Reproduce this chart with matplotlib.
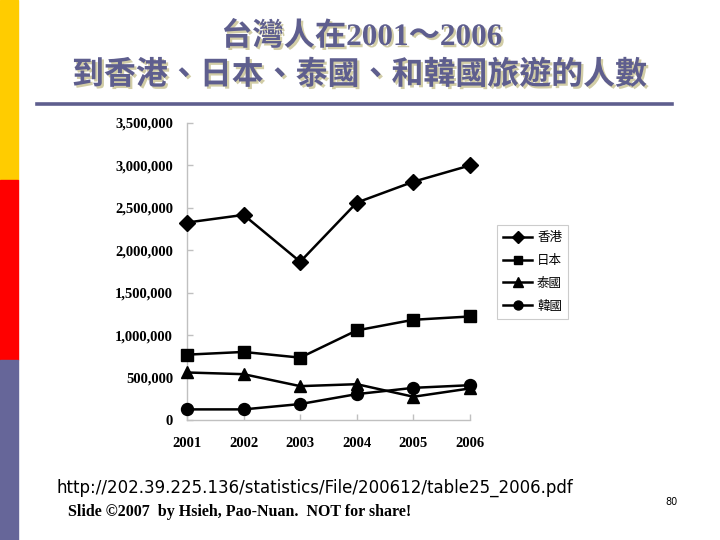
import matplotlib
matplotlib.use('Agg')
import matplotlib.pyplot as plt
import matplotlib.patheffects as pe
from matplotlib.patches import Rectangle
from matplotlib.lines import Line2D
from matplotlib.font_manager import FontProperties

# ---------------- data ----------------
years = [2001, 2002, 2003, 2004, 2005, 2006]
hong_kong = [2327000, 2417000, 1865000, 2562000, 2808000, 3000000]
japan = [770000, 802000, 735000, 1056000, 1181000, 1220000]
thailand = [560000, 540000, 399000, 422000, 274000, 372000]
korea = [125000, 125000, 188000, 305000, 379000, 410000]
series_names = ['香港', '日本', '泰國', '韓國']
y_ticks = [0, 500000, 1000000, 1500000, 2000000, 2500000, 3000000, 3500000]

title1 = '台灣人在2001～2006'
title2 = '到香港、日本、泰國、和韓國旅遊的人數'
source_url = 'http://202.39.225.136/statistics/File/200612/table25_2006.pdf'
credit = 'Slide ©2007  by Hsieh, Pao-Nuan.  NOT for share!'
page_no = '80'

W, H = 720, 540
fig = plt.figure(figsize=(7.2, 5.4), dpi=100)
fig.patch.set_facecolor('white')

# left decorative bars
for y0, y1, c in [(0, 180, '#FFCC00'), (180, 360, '#FF0000'), (360, 540, '#666699')]:
    fig.patches.append(Rectangle((0, 1 - y1 / H), 18 / W, (y1 - y0) / H,
                                 transform=fig.transFigure, color=c, zorder=0))

slate = '#5e5e8e'
shadow = [pe.withSimplePatchShadow(offset=(1.6, -1.6), shadow_rgbFace='#d2cda6', alpha=1.0)]

fig.text(362 / W, 1 - 37 / H, title1, ha='center', va='center', fontsize=22.5,
         weight='bold', family=['Liberation Serif', 'Noto Sans CJK TC'],
         color=slate, path_effects=shadow)
fig.text(360 / W, 1 - 75 / H, title2, ha='center', va='center', fontsize=23,
         weight='bold', family=['Noto Sans CJK TC'], color=slate, path_effects=shadow)

fig.lines.append(Line2D([37 / W, 672 / W], [1 - 104 / H, 1 - 104 / H],
                        transform=fig.transFigure, color=slate, lw=2.6))

# ---------------- chart ----------------
ax = fig.add_axes([187 / W, 1 - 420 / H, 283 / W, 297 / H])
styles = [('D', 8.0, hong_kong), ('s', 8.6, japan), ('^', 9.2, thailand), ('o', 8.6, korea)]
handles = []
for (m, ms, vals), name in zip(styles, series_names):
    ln, = ax.plot(years, vals, color='black', lw=1.8, marker=m, markersize=ms,
                  clip_on=False, label=name, zorder=3)
    handles.append(ln)

ax.set_xlim(2001, 2006)
ax.set_ylim(0, 3500000)
ax.set_xticks(years)
ax.set_yticks(y_ticks)
ax.set_yticklabels(['{:,}'.format(v) for v in y_ticks])
for s in ['top', 'right']:
    ax.spines[s].set_visible(False)
for s in ['left', 'bottom']:
    ax.spines[s].set_color('#c0c0c0')
    ax.spines[s].set_linewidth(1.0)
ax.tick_params(direction='in', length=4, color='#c0c0c0', width=1)
ax.tick_params(axis='y', pad=10)
ax.tick_params(axis='x', pad=12)
tick_font = FontProperties(family='Liberation Serif', weight='bold', size=10.5)
for lab in ax.get_xticklabels() + ax.get_yticklabels():
    lab.set_fontproperties(tick_font)

leg = fig.legend(handles, series_names, loc='upper left',
                 bbox_to_anchor=(497 / W, 1 - 225 / H), borderaxespad=0,
                 prop=FontProperties(family='Noto Sans CJK TC', size=9),
                 frameon=True, fancybox=False, edgecolor='#c0c0c0',
                 handlelength=2.3, labelspacing=0.78, borderpad=0.5,
                 handletextpad=0.4, markerscale=0.75)
leg.get_frame().set_linewidth(0.8)

# ---------------- footer ----------------
fig.text(57 / W, 1 - 488 / H, source_url, ha='left', va='center', fontsize=12,
         family='DejaVu Sans', color='black')
fig.text(68 / W, 1 - 512 / H, credit, ha='left', va='center', fontsize=11.5,
         family='Liberation Serif', weight='bold', color='black')
fig.text(672 / W, 1 - 502 / H, page_no, ha='center', va='center', fontsize=7,
         family='DejaVu Sans', color='black')

fig.savefig('out.png', dpi=100)
